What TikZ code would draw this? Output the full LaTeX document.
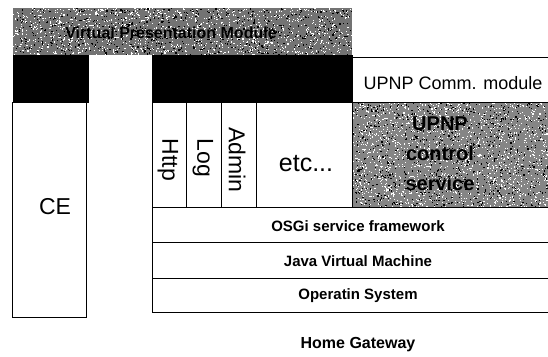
\documentclass[tikz,border=0pt]{standalone}
\usepackage{fontspec}
\setmainfont{Liberation Sans}
\begin{document}
\begin{tikzpicture}[x=1pt,y=-1pt,
  layer/.style={draw,line width=0.8pt},
  blackbar/.style={fill=black,draw=black,line width=0.8pt},
  grayfill/.style={fill=black!55},
  bigtxt/.style={font=\fontsize{23}{26}\selectfont},
  rowtxt/.style={font=\bfseries\fontsize{15}{18}\selectfont},
  ctrltxt/.style={font=\bfseries\fontsize{20}{30}\selectfont,align=center},
]
\useasboundingbox (0,0) rectangle (548,356);
\pgfmathsetseed{7}
% top virtual presentation module (textured)
\fill[grayfill] (13,8) rectangle (352,55);
\foreach \i in {1,...,1300}{\fill[white] ({13+338*rnd},{8+46*rnd}) rectangle ++(1.1,1.1);}
\foreach \i in {1,...,700}{\fill[black] ({13+338*rnd},{8+46*rnd}) rectangle ++(1.2,1.2);}
\node[font=\bfseries\fontsize{16}{18}\selectfont] (vpm) at (171,33) {Virtual Presentation Module};
% black bars
\path[blackbar] (13,55) rectangle (88,102);
\path[blackbar] (152,55) rectangle (352,102);
% UPNP comm module
\draw[layer] (352,57) rectangle (550,102);
\node[font=\fontsize{18}{20}\selectfont] (comm) at (453,83) {UPNP Comm. module};
% UPNP control service (textured)
\fill[black!48] (352,102) rectangle (550,207);
\foreach \i in {1,...,1800}{\fill[white] ({352+197*rnd},{102+105*rnd}) rectangle ++(1.1,1.1);}
\foreach \i in {1,...,900}{\fill[black] ({352+197*rnd},{102+105*rnd}) rectangle ++(1.2,1.2);}
\draw[layer] (352,102) rectangle (550,207);
\node[ctrltxt] (ctrl) at (440,154) {UPNP\\control\\service};
% CE
\draw[layer] (12,102) rectangle (86,317);
\node[bigtxt] (ce) at (55,207) {CE};
% bundles
\draw[layer] (152,102) rectangle (186,207);
\draw[layer] (186,102) rectangle (221,207);
\draw[layer] (221,102) rectangle (256,207);
\draw[layer] (256,102) rectangle (352,207);
\node[bigtxt,rotate=-90] (http) at (168,160) {Http};
\node[bigtxt,rotate=-90] (log) at (203,158) {Log};
\node[bigtxt,rotate=-90] (admin) at (237,160) {Admin};
\node[font=\fontsize{25}{28}\selectfont] (etc) at (306,164) {etc...};
% lower layers
\draw[layer] (152,207) rectangle (550,242);
\draw[layer] (152,242) rectangle (550,278);
\draw[layer] (152,278) rectangle (550,312);
\node[rowtxt] (osgi) at (358,226) {OSGi service framework};
\node[rowtxt] (jvm) at (358,261) {Java Virtual Machine};
\node[rowtxt] (os) at (358,296) {Operatin System};
\node[font=\bfseries\fontsize{16}{18}\selectfont] (hg) at (358,345) {Home Gateway};
\end{tikzpicture}
\end{document}
